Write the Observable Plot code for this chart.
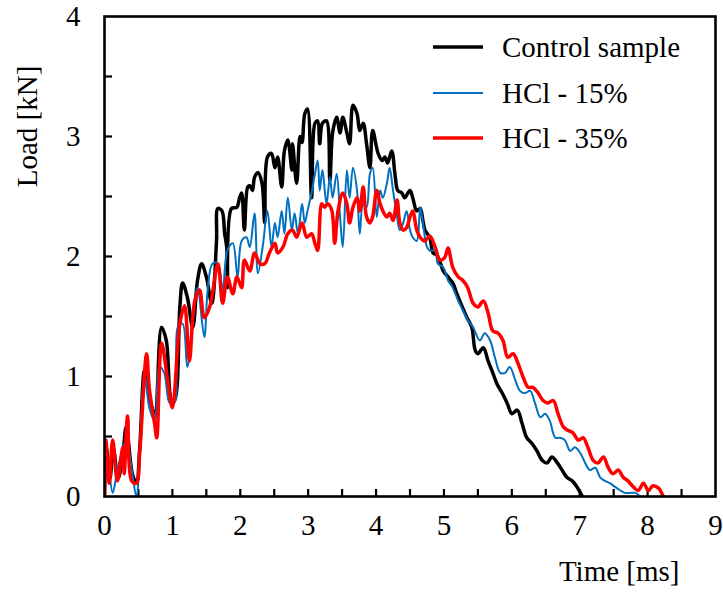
<!DOCTYPE html>
<html>
<head>
<meta charset="utf-8">
<script src="https://cdn.jsdelivr.net/npm/d3@7"></script>
<script src="https://cdn.jsdelivr.net/npm/@observablehq/plot@0.6"></script>
<style>
  html, body { margin: 0; padding: 0; background: #fff; }
  #wrap { position: relative; width: 723px; height: 592px; font-family: "Liberation Serif", serif; }
  .lg { position: absolute; left: 433px; height: 34px; display: flex; align-items: center; font-size: 29px; color: #000; white-space: nowrap; font-family: "Liberation Serif", serif; }
  .lg svg { margin-right: 19px; }
  #wrap svg text { font-family: "Liberation Serif", serif; }
</style>
</head>
<body>
<div id="wrap"></div>
<script>
// ---- Data ----
const seriesNames = ["Control sample", "HCl - 15%", "HCl - 35%"];
const seriesColors = ["#000000", "#0070C0", "#FF0000"];
const seriesWidths = [3.5, 2, 3.5];

const timeControl = [0,0.03,0.08,0.13,0.2,0.27,0.32,0.41,0.47,0.52,0.59,0.66,0.74,0.84,0.91,0.99,1.03,1.11,1.15,1.22,1.3,1.37,1.43,1.5,1.58,1.65,1.67,1.73,1.77,1.8,1.81,1.87,1.95,1.99,2.02,2.06,2.11,2.14,2.18,2.21,2.26,2.32,2.36,2.4,2.46,2.51,2.55,2.61,2.65,2.7,2.76,2.77,2.83,2.88,2.91,2.95,2.99,3.05,3.1,3.14,3.17,3.21,3.27,3.32,3.36,3.42,3.47,3.51,3.57,3.61,3.66,3.72,3.76,3.81,3.86,3.91,3.95,4.03,4.09,4.13,4.17,4.23,4.28,4.32,4.38,4.42,4.5,4.54,4.6,4.65,4.69,4.72,4.79,4.84,4.9,4.99,5.06,5.13,5.19,5.27,5.34,5.41,5.46,5.5,5.58,5.65,5.72,5.78,5.86,5.93,6.0,6.08,6.15,6.22,6.3,6.37,6.45,6.52,6.59,6.67,6.74,6.81,6.89,6.96,7.04];
const loadControl = [0,0.4,0.15,0.4,0.15,0.35,0.58,0.19,0.11,0.41,1.05,0.83,0.69,1.41,1.3,0.8,0.8,1.58,1.78,1.66,1.41,1.8,1.94,1.83,1.61,2.13,2.4,2.38,2.19,2.08,1.74,2.4,2.41,2.49,2.53,2.22,2.58,2.59,2.55,2.66,2.7,2.61,2.28,2.83,2.86,2.74,2.83,2.58,2.88,2.97,2.72,2.94,2.61,3.0,2.95,3.19,3.23,2.49,3.11,3.13,2.94,3.11,3.13,2.63,3.03,3.16,3.03,3.16,3.03,2.94,3.26,3.19,3.05,3.11,2.94,2.74,3.05,2.86,2.8,2.83,2.78,2.88,2.68,2.55,2.53,2.49,2.55,2.49,2.38,2.4,2.3,2.22,2.16,2.03,2.01,1.88,1.83,1.78,1.69,1.58,1.49,1.41,1.22,1.19,1.24,1.13,1.03,0.94,0.86,0.78,0.69,0.72,0.61,0.49,0.44,0.38,0.3,0.28,0.33,0.28,0.22,0.16,0.13,0.08,0];

const timeHCl15 = [0,0.04,0.12,0.18,0.25,0.32,0.41,0.47,0.52,0.59,0.66,0.74,0.81,0.88,0.96,1.03,1.08,1.15,1.22,1.3,1.37,1.47,1.52,1.59,1.67,1.74,1.81,1.89,1.96,2.02,2.09,2.14,2.21,2.26,2.33,2.4,2.46,2.51,2.55,2.61,2.65,2.7,2.76,2.8,2.85,2.91,2.95,2.99,3.05,3.1,3.14,3.17,3.21,3.27,3.32,3.36,3.42,3.47,3.51,3.57,3.61,3.66,3.72,3.76,3.81,3.86,3.91,3.95,4.01,4.06,4.1,4.16,4.2,4.25,4.31,4.35,4.4,4.45,4.5,4.54,4.6,4.65,4.69,4.75,4.79,4.87,4.91,4.99,5.06,5.13,5.21,5.28,5.35,5.43,5.53,5.6,5.68,5.75,5.83,5.9,5.97,6.05,6.12,6.19,6.27,6.34,6.42,6.49,6.56,6.64,6.71,6.78,6.86,6.93,7.01,7.08,7.15,7.23,7.3,7.37,7.45,7.52,7.6,7.67,7.74,7.82,7.89];
const loadHCl15 = [0,0.33,0.03,0.19,0.36,0.47,0.19,0,0.36,1.03,0.74,0.63,1.08,1.03,0.78,0.78,1.41,1.44,1.08,1.47,1.74,1.33,1.72,1.94,1.94,1.72,2.05,2.11,1.83,2.13,2.16,2.08,2.36,1.86,2.08,2.38,2.08,2.28,2.16,2.38,2.19,2.49,2.22,2.36,2.19,2.44,2.28,2.38,2.53,2.69,2.8,2.55,2.72,2.44,2.66,2.49,2.69,2.33,2.08,2.72,2.49,2.74,2.55,2.19,2.44,2.41,2.69,2.74,2.33,2.55,2.49,2.61,2.74,2.55,2.33,2.22,2.28,2.38,2.22,2.16,2.13,2.41,2.28,2.08,2.05,2.05,1.94,1.91,1.8,1.74,1.63,1.55,1.47,1.41,1.3,1.36,1.3,1.16,1.03,1.03,1.08,0.97,0.88,0.86,0.88,0.78,0.66,0.69,0.63,0.49,0.49,0.47,0.38,0.41,0.36,0.28,0.22,0.24,0.16,0.13,0.11,0.08,0.05,0.03,0.03,0.03,0];

const timeHCl35 = [0,0.02,0.07,0.12,0.19,0.27,0.29,0.34,0.4,0.47,0.52,0.62,0.66,0.74,0.77,0.84,0.93,1.0,1.11,1.18,1.25,1.33,1.4,1.47,1.55,1.67,1.74,1.81,1.89,1.95,2.02,2.06,2.14,2.21,2.29,2.36,2.43,2.51,2.55,2.63,2.7,2.77,2.83,2.91,2.98,3.05,3.1,3.14,3.2,3.24,3.29,3.35,3.39,3.44,3.51,3.57,3.61,3.66,3.72,3.76,3.81,3.86,3.91,3.95,4.01,4.06,4.1,4.16,4.2,4.25,4.31,4.35,4.4,4.45,4.5,4.54,4.6,4.65,4.72,4.79,4.87,4.94,5.01,5.06,5.13,5.21,5.28,5.35,5.43,5.5,5.58,5.65,5.72,5.8,5.87,5.94,6.02,6.09,6.17,6.24,6.31,6.39,6.46,6.53,6.61,6.68,6.76,6.83,6.9,6.98,7.05,7.12,7.2,7.27,7.35,7.42,7.49,7.57,7.64,7.71,7.79,7.86,7.94,8.01,8.08,8.16,8.23];
const loadHCl35 = [0,0.47,0.11,0.47,0.13,0.41,0.19,0.67,0.13,0.11,0.38,1.19,0.9,0.6,0.49,1.28,0.97,0.74,1.44,1.59,1.13,1.63,1.72,1.49,1.58,1.94,1.61,1.83,1.69,1.83,1.74,1.97,1.88,2.03,1.94,1.94,2.03,2.11,2.03,2.08,2.19,2.22,2.16,2.28,2.16,2.19,2.11,2.05,2.44,2.41,2.44,2.38,2.11,2.38,2.53,2.44,2.28,2.41,2.49,2.38,2.58,2.33,2.28,2.33,2.55,2.44,2.38,2.33,2.36,2.3,2.47,2.28,2.22,2.24,2.33,2.38,2.22,2.16,2.13,2.17,2.08,1.97,1.99,2.07,1.91,1.83,1.8,1.74,1.61,1.58,1.63,1.53,1.38,1.36,1.3,1.16,1.19,1.11,0.99,0.91,0.91,0.86,0.8,0.78,0.8,0.69,0.58,0.55,0.53,0.47,0.49,0.41,0.3,0.28,0.33,0.24,0.19,0.22,0.16,0.13,0.08,0.05,0.11,0.05,0.09,0.07,0];

const xTickLabels = [0,1,2,3,4,5,6,7,8,9];
const yTickLabels = [0,1,2,3,4];
const xMinorTicks = d3.range(0.5, 9, 0.5);
const yMinorTicks = d3.range(0.5, 4, 0.5);

// ---- Build tables ----
const times = [timeControl, timeHCl15, timeHCl35];
const loads = [loadControl, loadHCl15, loadHCl35];
const tables = seriesNames.map((name, i) => times[i].map((t, j) => ({series: name, time: t, load: loads[i][j]})));

const serif = "'Liberation Serif', serif";

const chart = Plot.plot({
  width: 723,
  height: 592,
  marginLeft: 104,
  marginRight: 8,
  marginTop: 16,
  marginBottom: 96,
  style: {fontFamily: serif, fontSize: "29px", background: "white", color: "black", overflow: "visible"},
  x: {domain: [0, 9]},
  y: {domain: [0, 4]},
  marks: [
    Plot.axisX({ticks: xTickLabels, tickFormat: d => String(d), tickSize: 0, tickPadding: 18, label: null, fontSize: 29}),
    Plot.axisY({ticks: yTickLabels, tickFormat: d => String(d), tickSize: 0, tickPadding: 24, label: null, fontSize: 29}),
    Plot.tickX(xMinorTicks, {x: d => d, insetTop: 473, stroke: "black", strokeWidth: 2.2}),
    Plot.tickY(yMinorTicks, {y: d => d, insetRight: 603, stroke: "black", strokeWidth: 2.2}),
    ...tables.map((tb, i) => Plot.line(tb, {
      x: "time", y: "load", stroke: seriesColors[i], strokeWidth: seriesWidths[i],
      curve: "catmull-rom", strokeLinejoin: "round", clip: true
    })),
    Plot.frame({stroke: "black", strokeWidth: 2.6}),
    Plot.text(["Time [ms]"], {frameAnchor: "bottom-right", textAnchor: "end", lineAnchor: "middle", dx: -36, dy: 75, fontSize: 29, fill: "black"}),
    Plot.text(["Load [kN]"], {frameAnchor: "top-left", textAnchor: "middle", lineAnchor: "middle", rotate: -90, dx: -77, dy: 110, fontSize: 29, fill: "black"})
  ]
});

const wrap = document.getElementById("wrap");
wrap.appendChild(chart);

// ---- Legend (inside plot area, top right) ----
const rowTops = [30, 76, 121];
seriesNames.forEach((name, i) => {
  const row = document.createElement("div");
  row.className = "lg";
  row.style.top = rowTops[i] + "px";
  const w = seriesWidths[i];
  row.innerHTML = `<svg width="50" height="8"><line x1="0" x2="50" y1="4" y2="4" stroke="${seriesColors[i]}" stroke-width="${w}"/></svg><span>${name}</span>`;
  wrap.appendChild(row);
});
</script>
</body>
</html>
